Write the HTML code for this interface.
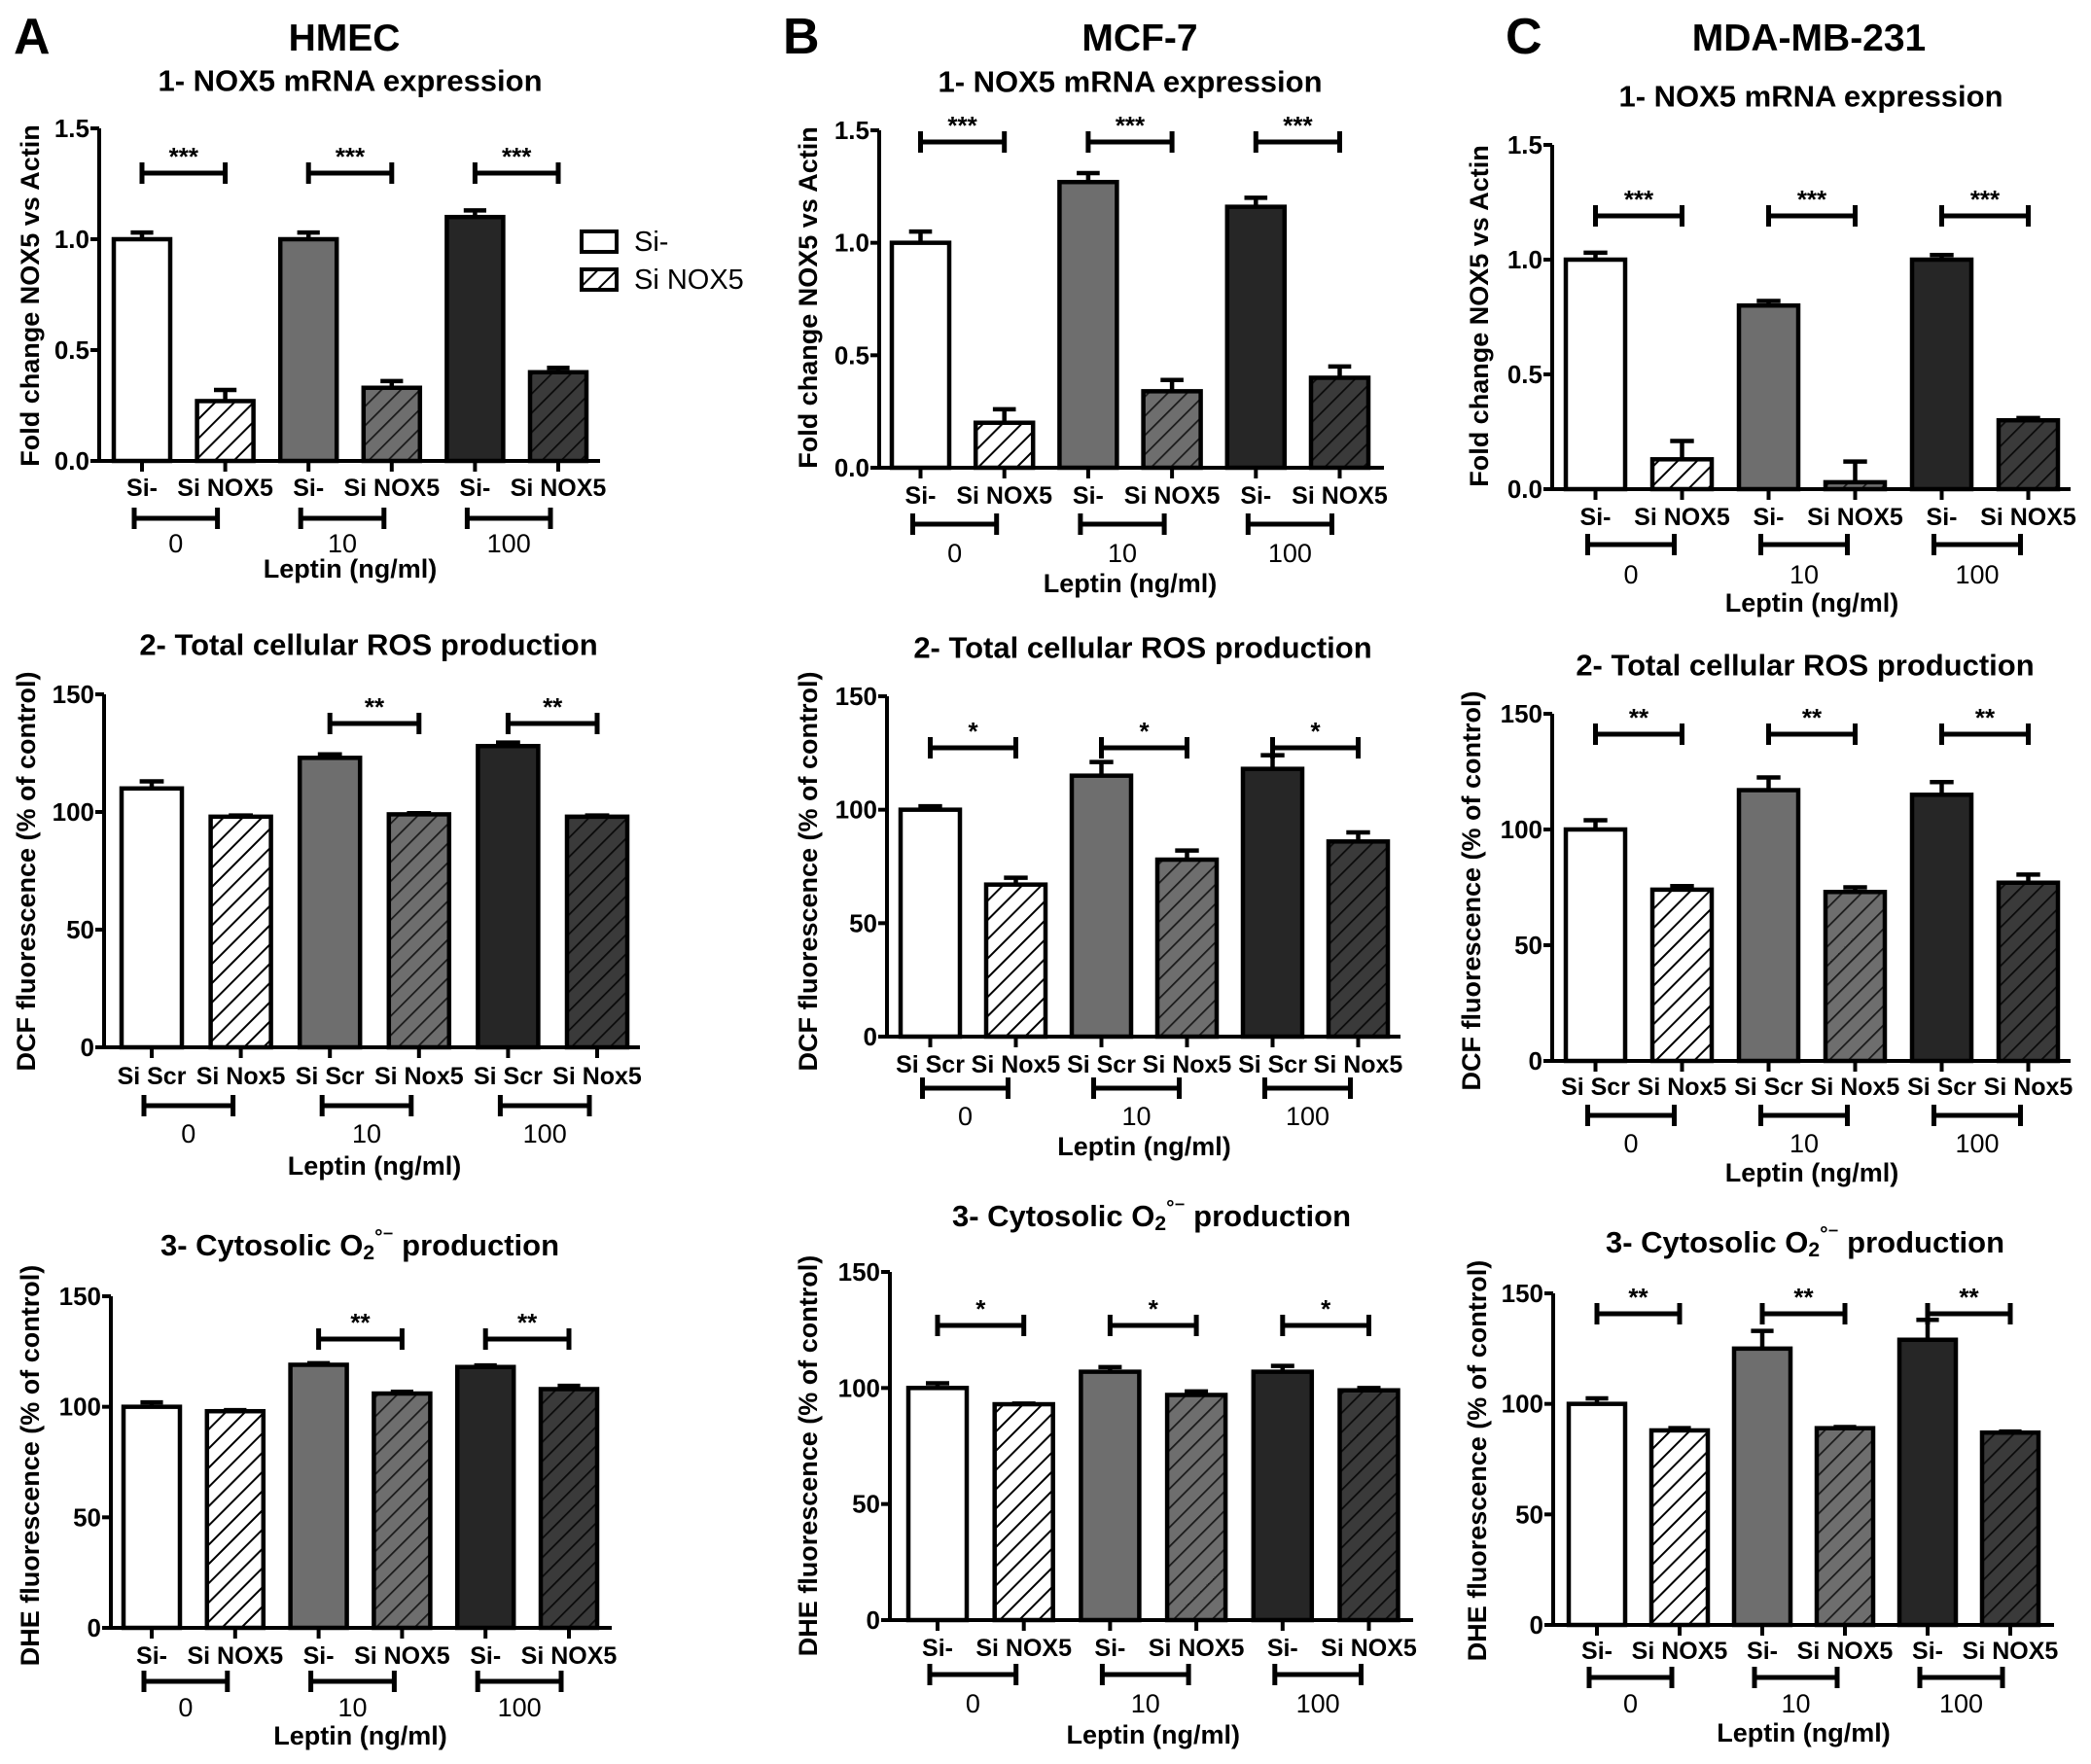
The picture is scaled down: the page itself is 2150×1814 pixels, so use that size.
<!DOCTYPE html>
<html><head><meta charset="utf-8"><style>
html,body{margin:0;padding:0;background:#fff}
svg{display:block;font-family:"Liberation Sans",Arial,sans-serif}
</style></head><body>
<svg id="fig" width="2150" height="1814" viewBox="0 0 2150 1814" xmlns="http://www.w3.org/2000/svg">
<defs>
<pattern id="h0" patternUnits="userSpaceOnUse" width="14" height="14" patternTransform="rotate(45)"><rect width="14" height="14" fill="#fff"/><line x1="0" y1="0" x2="0" y2="14" stroke="#000" stroke-width="4"/></pattern>
<pattern id="h1" patternUnits="userSpaceOnUse" width="14" height="14" patternTransform="rotate(45)"><rect width="14" height="14" fill="#6e6e6e"/><line x1="0" y1="0" x2="0" y2="14" stroke="#1a1a1a" stroke-width="3.5"/></pattern>
<pattern id="h2" patternUnits="userSpaceOnUse" width="14" height="14" patternTransform="rotate(45)"><rect width="14" height="14" fill="#3a3a3a"/><line x1="0" y1="0" x2="0" y2="14" stroke="#0a0a0a" stroke-width="3.5"/></pattern>
</defs>
<text x="14" y="55" font-size="52" font-weight="bold">A</text>
<text x="805" y="55" font-size="52" font-weight="bold">B</text>
<text x="1548" y="55" font-size="52" font-weight="bold">C</text>
<text x="354" y="52" font-size="39" font-weight="bold" text-anchor="middle">HMEC</text>
<text x="1172" y="52" font-size="39" font-weight="bold" text-anchor="middle">MCF-7</text>
<text x="1860" y="52" font-size="39" font-weight="bold" text-anchor="middle">MDA-MB-231</text>
<g>
<rect x="598" y="238" width="36" height="21" fill="#fff" stroke="#000" stroke-width="4"/>
<text x="652" y="249" font-size="29" dominant-baseline="central">Si-</text>
<rect x="598" y="277" width="36" height="21" fill="url(#h0)" stroke="#000" stroke-width="4"/>
<text x="652" y="288" font-size="29" dominant-baseline="central">Si NOX5</text>
</g>
</svg>
<script>
const groups = ["0", "10", "100"];
const labelsSi = ["Si-", "Si NOX5"];
const labelsScr = ["Si Scr", "Si Nox5"];
const ticksFold = [0, 0.5, 1.0, 1.5];
const ticksPct = [0, 50, 100, 150];

const a1Values = [1.0, 0.27, 1.0, 0.33, 1.1, 0.40];
const a1Errors = [0.03, 0.05, 0.03, 0.03, 0.03, 0.02];
const a1Sig = ["***", "***", "***"];
const a2Values = [110, 98, 123, 99, 128, 98];
const a2Errors = [3, 0.5, 1.5, 0.5, 1.5, 0.5];
const a2Sig = ["", "**", "**"];
const a3Values = [100, 98, 119, 106, 118, 108];
const a3Errors = [2, 0.5, 0.7, 0.8, 0.7, 1.5];
const a3Sig = ["", "**", "**"];
const b1Values = [1.0, 0.2, 1.27, 0.34, 1.16, 0.40];
const b1Errors = [0.05, 0.06, 0.04, 0.05, 0.04, 0.05];
const b1Sig = ["***", "***", "***"];
const b2Values = [100, 67, 115, 78, 118, 86];
const b2Errors = [1.5, 3, 6, 4, 6, 4];
const b2Sig = ["*", "*", "*"];
const b3Values = [100, 93, 107, 97, 107, 99];
const b3Errors = [2, 0.3, 2, 1.5, 2.5, 1];
const b3Sig = ["*", "*", "*"];
const c1Values = [1.0, 0.13, 0.8, 0.03, 1.0, 0.30];
const c1Errors = [0.03, 0.08, 0.02, 0.09, 0.02, 0.01];
const c1Sig = ["***", "***", "***"];
const c2Values = [100, 74, 117, 73, 115, 77];
const c2Errors = [4, 1.5, 5.5, 2, 5.5, 3.5];
const c2Sig = ["**", "**", "**"];
const c3Values = [100, 88, 125, 89, 129, 87];
const c3Errors = [2.5, 1, 8, 0.5, 9, 0.5];
const c3Sig = ["**", "**", "**"];

const NS = "http://www.w3.org/2000/svg";
const svg = document.getElementById("fig");
function mk(tag, attrs, parent, text) {
  const e = document.createElementNS(NS, tag);
  for (const k in attrs) e.setAttribute(k, attrs[k]);
  if (text !== undefined) e.textContent = text;
  parent.appendChild(e);
  return e;
}
const fills = ["#ffffff", "url(#h0)", "#6e6e6e", "url(#h1)", "#262626", "url(#h2)"];

function panel(id, L, values, errors, sig, ticks, tickFmt, xl, title, ylabel, titleKind) {
  const g = mk("g", {}, svg);
  
  
  const max = ticks[ticks.length - 1];
  const yS = v => L.y0 - (v / max) * (L.y0 - L.yTop);
  const cx = i => L.left + i * L.pitch + L.bw / 2;
  const t = mk("text", {x: L.tx, y: L.ty, "font-size": 31, "font-weight": "bold", "text-anchor": "middle", "dominant-baseline": "central"}, g);
  
  
  if (titleKind === 3) {
    mk("tspan", {}, t, "3- Cytosolic O");
    mk("tspan", {"font-size": 21, dy: 8}, t, "2");
    mk("tspan", {"font-size": 21, dy: -16}, t, "°⁻");
    mk("tspan", {dy: 8}, t, " production");
  } else t.textContent = title;
  const yl = mk("text", {x: L.ylx, y: L.yly, "font-size": 27, "font-weight": "bold", "text-anchor": "middle", "dominant-baseline": "central", transform: `rotate(-90 ${L.ylx} ${L.yly})`}, g, ylabel);
  
  
  values.forEach((v, i) => {
    const x = L.left + i * L.pitch, y = yS(v);
    const r = mk("rect", {x: x, y: y, width: L.bw, height: L.y0 - y, fill: fills[i], stroke: "#000", "stroke-width": 4.5}, g);
    
    
    const ye = yS(v + errors[i]);
    const eb = mk("path", {d: `M${cx(i)} ${y}V${ye}M${cx(i) - L.bw * 0.2} ${ye}H${cx(i) + L.bw * 0.2}`, stroke: "#000", "stroke-width": 4.5, fill: "none"}, g);
    
    
  });
  const ax = mk("path", {d: `M${L.ax} ${L.yTop}V${L.y0}H${L.right}`, stroke: "#000", "stroke-width": 4, fill: "none"}, g);
  
  
  ticks.forEach(tv => {
    const y = yS(tv);
    mk("line", {x1: L.ax - 9, x2: L.ax, y1: y, y2: y, stroke: "#000", "stroke-width": 4}, g);
    const tl = mk("text", {x: L.ax - 10, y: y, "font-size": 26, "font-weight": "bold", "text-anchor": "end", "dominant-baseline": "central"}, g, tickFmt(tv));
    
    
  });
  for (let i = 0; i < 6; i++) {
    mk("line", {x1: cx(i), x2: cx(i), y1: L.y0, y2: L.y0 + 11, stroke: "#000", "stroke-width": 4}, g);
    const xt = mk("text", {x: cx(i), y: L.lab, "font-size": 25, "font-weight": "bold", "text-anchor": "middle", "dominant-baseline": "central"}, g, xl[i % 2]);
    
    
  }
  groups.forEach((gname, k) => {
    const x1 = cx(2 * k) - 8, x2 = cx(2 * k + 1) - 8;
    const br = mk("path", {d: `M${x1} ${L.grp - 11}V${L.grp + 11}M${x1} ${L.grp}H${x2}M${x2} ${L.grp - 11}V${L.grp + 11}`, stroke: "#000", "stroke-width": 5, fill: "none"}, g);
    
    
    const nt = mk("text", {x: (x1 + x2) / 2, y: L.num, "font-size": 27, "text-anchor": "middle", "dominant-baseline": "central"}, g, gname);
    
    
    if (sig[k]) {
      const a = cx(2 * k), b = cx(2 * k + 1);
      const sb = mk("path", {d: `M${a} ${L.sigY - 11}V${L.sigY + 11}M${a} ${L.sigY}H${b}M${b} ${L.sigY - 11}V${L.sigY + 11}`, stroke: "#000", "stroke-width": 5, fill: "none"}, g);
      
      
      const st = mk("text", {x: (a + b) / 2, y: L.sigY - 8, "font-size": 26, "font-weight": "bold", "text-anchor": "middle"}, g, sig[k]);
      
      
    }
  });
  const lp = mk("text", {x: (cx(0) + cx(5)) / 2, y: L.lep, "font-size": 27, "font-weight": "bold", "text-anchor": "middle", "dominant-baseline": "central"}, g, "Leptin (ng/ml)");
  
  
}
const f1 = v => v.toFixed(1), f0 = v => String(v);
const T1 = "1- NOX5 mRNA expression", T2 = "2- Total cellular ROS production";
const Y1 = "Fold change NOX5 vs Actin", Y2 = "DCF fluorescence (% of control)", Y3 = "DHE fluorescence (% of control)";

panel("a1", {ax:102,y0:474,yTop:132,left:117,pitch:85.6,bw:58,right:617,sigY:178,lab:502,grp:533,num:559,lep:585,tx:360,ty:83,ylx:31,yly:304}, a1Values, a1Errors, a1Sig, ticksFold, f1, labelsSi, T1, Y1, 1);
panel("a2", {ax:107,y0:1077,yTop:714,left:125,pitch:91.6,bw:62,right:658,sigY:744,lab:1107,grp:1137,num:1166,lep:1199,tx:379,ty:663,ylx:27,yly:896}, a2Values, a2Errors, a2Sig, ticksPct, f0, labelsScr, T2, Y2, 2);
panel("a3", {ax:114,y0:1674,yTop:1333,left:127,pitch:85.8,bw:58,right:629,sigY:1377,lab:1703,grp:1729,num:1756,lep:1785,tx:370,ty:1280,ylx:31,yly:1507}, a3Values, a3Errors, a3Sig, ticksPct, f0, labelsSi, "", Y3, 3);
panel("b1", {ax:904,y0:481,yTop:134,left:917,pitch:86.2,bw:59,right:1423,sigY:146,lab:510,grp:539,num:569,lep:600,tx:1162,ty:84,ylx:831,yly:306}, b1Values, b1Errors, b1Sig, ticksFold, f1, labelsSi, T1, Y1, 1);
panel("b2", {ax:912,y0:1066,yTop:716,left:926,pitch:88,bw:61,right:1440,sigY:769,lab:1095,grp:1119,num:1148,lep:1179,tx:1175,ty:666,ylx:831,yly:896}, b2Values, b2Errors, b2Sig, ticksPct, f0, labelsScr, T2, Y2, 2);
panel("b3", {ax:915,y0:1666,yTop:1308,left:934,pitch:88.7,bw:60,right:1453,sigY:1363,lab:1695,grp:1722,num:1752,lep:1784,tx:1184,ty:1250,ylx:831,yly:1497}, b3Values, b3Errors, b3Sig, ticksPct, f0, labelsSi, "", Y3, 3);
panel("c1", {ax:1596,y0:503,yTop:149,left:1610,pitch:89,bw:61,right:2129,sigY:222,lab:532,grp:560,num:591,lep:620,tx:1862,ty:99,ylx:1521,yly:325}, c1Values, c1Errors, c1Sig, ticksFold, f1, labelsSi, T1, Y1, 1);
panel("c2", {ax:1596,y0:1091,yTop:734,left:1610,pitch:89,bw:61,right:2129,sigY:755,lab:1118,grp:1147,num:1176,lep:1206,tx:1856,ty:684,ylx:1513,yly:916}, c2Values, c2Errors, c2Sig, ticksPct, f0, labelsScr, T2, Y2, 2);
panel("c3", {ax:1597,y0:1671,yTop:1330,left:1613,pitch:85,bw:58,right:2112,sigY:1351,lab:1698,grp:1725,num:1752,lep:1782,tx:1856,ty:1277,ylx:1519,yly:1502}, c3Values, c3Errors, c3Sig, ticksPct, f0, labelsSi, "", Y3, 3);
</script>
</body></html>
